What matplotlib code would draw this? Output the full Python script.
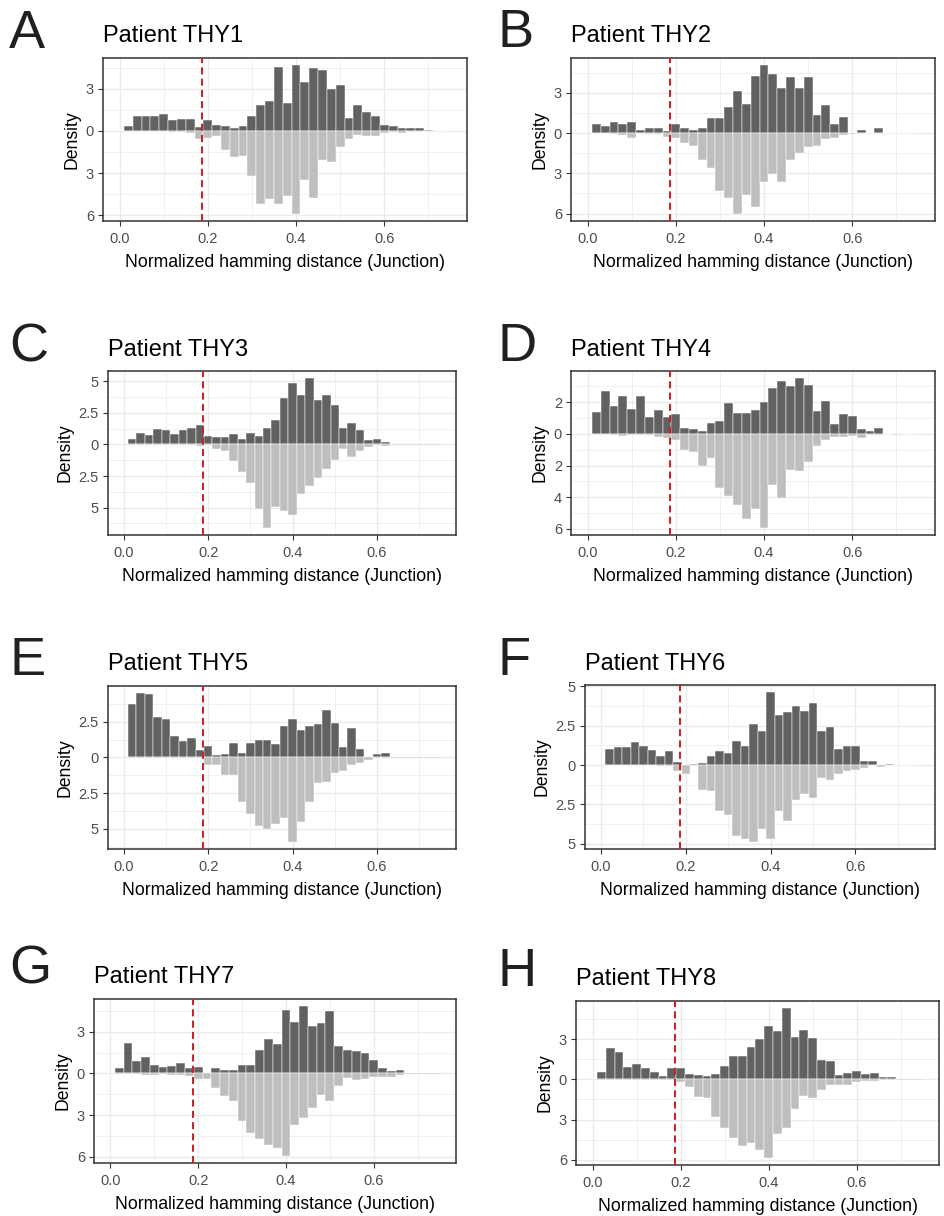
import matplotlib
matplotlib.use("Agg")
import matplotlib.pyplot as plt
import numpy as np

plt.rcParams["font.family"] = ["Liberation Sans", "DejaVu Sans"]

W, H = 944, 1216
BIN = 0.02
centers = np.round(np.arange(1, 38) * BIN, 2)
CUTOFF = 0.187

DARK = "#616161"
LIGHT = "#BEBEBE"
RED = "#CC2229"

# Density per bin (upper = dark series, lower = light series, shown mirrored)
thy1_up = [0.33, 1.02, 1.02, 1.09, 1.21, 0.74, 0.81, 0.81, 0.28, 0.74, 0.40, 0.33, 0.19, 0.33, 1.02, 1.86, 2.14, 4.51, 2.00,
           4.65, 3.47, 4.44, 4.30, 2.98, 3.26, 0.88, 1.86, 1.37, 1.09, 0.40, 0.33, 0.20, 0.20, 0.20, 0.03, 0.02, 0.02]
thy1_dn = [0.00, 0.03, 0.03, 0.02, 0.03, 0.07, 0.09, 0.14, 0.56, 0.49, 0.35, 1.35, 1.88, 1.81, 3.21, 5.23, 4.84, 5.23, 4.60,
           5.88, 3.51, 4.77, 2.05, 2.19, 1.12, 0.56, 0.30, 0.37, 0.37, 0.14, 0.07, 0.14, 0.03, 0.02, 0.01, 0.01, 0.01]

thy2_up = [0.69, 0.54, 0.84, 0.69, 0.84, 0.20, 0.39, 0.39, 0.17, 0.69, 0.34, 0.20, 0.34, 1.15, 1.15, 1.94, 3.14, 2.19, 4.25,
           5.04, 4.40, 3.37, 4.15, 3.34, 4.15, 1.38, 2.09, 0.69, 1.20, 0.02, 0.20, 0.02, 0.34, 0.02, 0.01, 0.01, 0.01]
thy2_dn = [0.02, 0.02, 0.05, 0.17, 0.37, 0.03, 0.05, 0.07, 0.29, 0.37, 0.76, 0.96, 1.99, 2.58, 4.28, 4.86, 6.00, 4.64, 5.53,
           3.66, 3.05, 3.66, 1.99, 1.47, 1.03, 0.96, 0.42, 0.34, 0.15, 0.07, 0.02, 0.02, 0.02, 0.01, 0.01, 0.01, 0.01]

thy3_up = [0.42, 0.89, 0.73, 1.20, 1.10, 0.81, 1.13, 1.31, 1.52, 0.68, 0.58, 0.58, 0.81, 0.42, 0.89, 0.68, 1.31, 1.91, 3.64,
           4.82, 3.87, 5.21, 3.48, 3.87, 3.09, 1.31, 1.68, 1.13, 0.34, 0.42, 0.18, 0.02, 0.02, 0.02, 0.02, 0.02, 0.02]
thy3_dn = [0.02, 0.02, 0.02, 0.02, 0.02, 0.02, 0.02, 0.03, 0.10, 0.05, 0.34, 0.52, 1.31, 2.17, 3.04, 5.08, 6.57, 4.92, 5.24,
           5.55, 3.90, 3.27, 2.64, 1.94, 1.26, 0.34, 0.99, 0.52, 0.18, 0.05, 0.10, 0.02, 0.02, 0.02, 0.02, 0.02, 0.02]

thy4_up = [1.40, 2.73, 1.74, 2.37, 1.59, 2.37, 1.05, 1.49, 1.05, 1.24, 0.36, 0.29, 0.17, 0.67, 0.80, 1.93, 1.30, 1.30, 1.49,
           1.99, 2.87, 3.31, 3.00, 3.50, 3.06, 1.43, 2.05, 0.61, 1.24, 1.11, 0.29, 0.17, 0.36, 0.02, 0.02, 0.02, 0.02]
thy4_dn = [0.02, 0.03, 0.05, 0.13, 0.05, 0.05, 0.07, 0.17, 0.23, 0.36, 1.01, 1.13, 2.01, 1.51, 3.40, 3.90, 4.47, 5.35, 4.72,
           5.91, 3.21, 4.03, 2.26, 2.33, 1.76, 0.75, 0.38, 0.19, 0.19, 0.13, 0.25, 0.06, 0.05, 0.02, 0.06, 0.03, 0.02]

thy5_up = [3.71, 4.47, 4.40, 2.81, 2.67, 1.50, 1.15, 1.36, 0.53, 0.81, 0.18, 0.25, 1.01, 0.32, 1.01, 1.22, 1.22, 0.94, 2.19,
           2.67, 1.91, 2.19, 2.33, 3.29, 2.40, 0.74, 2.05, 0.60, 0.00, 0.25, 0.32, 0.02, 0.02, 0.02, 0.02, 0.02, 0.02]
thy5_dn = [0.02, 0.02, 0.02, 0.02, 0.02, 0.02, 0.07, 0.02, 0.07, 0.55, 0.51, 1.20, 1.24, 3.11, 3.94, 4.77, 5.00, 4.63, 4.22,
           5.88, 4.49, 3.11, 1.82, 1.75, 1.11, 0.97, 0.55, 0.41, 0.21, 0.07, 0.02, 0.02, 0.07, 0.02, 0.02, 0.02, 0.02]

thy6_up = [1.04, 1.17, 1.17, 1.48, 1.23, 0.97, 0.59, 0.91, 0.21, 0.00, 0.08, 0.15, 0.55, 0.91, 0.78, 1.55, 1.23, 2.63, 2.18,
           4.60, 3.14, 3.39, 3.77, 3.45, 3.90, 2.18, 2.44, 1.04, 1.23, 1.23, 0.28, 0.28, 0.02, 0.08, 0.02, 0.02, 0.02]
thy6_dn = [0.02, 0.02, 0.02, 0.02, 0.02, 0.02, 0.03, 0.08, 0.36, 0.55, 0.02, 1.57, 1.63, 2.94, 3.14, 4.47, 4.72, 4.85, 4.03,
           4.72, 2.94, 3.52, 2.20, 1.86, 2.06, 0.81, 0.97, 0.59, 0.36, 0.34, 0.21, 0.02, 0.10, 0.02, 0.02, 0.02, 0.02]

thy7_up = [0.40, 2.16, 0.90, 1.19, 0.62, 0.48, 0.55, 0.76, 0.40, 0.48, 0.00, 0.40, 0.26, 0.26, 0.62, 0.62, 1.69, 2.47, 2.11,
           4.58, 3.68, 4.82, 3.40, 3.61, 4.47, 1.97, 1.69, 1.62, 1.47, 0.97, 0.40, 0.19, 0.26, 0.02, 0.02, 0.02, 0.02]
thy7_dn = [0.02, 0.02, 0.02, 0.14, 0.10, 0.02, 0.14, 0.10, 0.21, 0.43, 0.43, 1.07, 1.64, 2.00, 3.42, 4.28, 4.70, 5.13, 5.34,
           5.91, 3.71, 3.21, 2.49, 1.57, 2.00, 0.93, 0.36, 0.50, 0.43, 0.29, 0.29, 0.29, 0.14, 0.02, 0.02, 0.02, 0.02]

thy8_up = [0.55, 2.34, 2.04, 0.92, 1.14, 0.85, 0.55, 0.25, 0.85, 0.85, 0.40, 0.32, 0.25, 0.40, 1.00, 1.74, 1.74, 2.41, 3.01,
           3.98, 3.61, 5.32, 3.16, 3.68, 3.08, 1.44, 1.37, 0.32, 0.47, 0.62, 0.40, 0.47, 0.17, 0.17, 0.02, 0.02, 0.02]
thy8_dn = [0.02, 0.02, 0.02, 0.02, 0.02, 0.02, 0.02, 0.02, 0.02, 0.20, 0.55, 1.29, 1.37, 2.79, 3.61, 4.35, 5.02, 4.73, 5.32,
           5.85, 4.05, 3.61, 2.19, 1.22, 1.37, 0.77, 0.40, 0.40, 0.40, 0.20, 0.10, 0.10, 0.02, 0.02, 0.02, 0.02, 0.02]

letters = ["A", "B", "C", "D", "E", "F", "G", "H"]
titles = ["Patient THY1", "Patient THY2", "Patient THY3", "Patient THY4",
          "Patient THY5", "Patient THY6", "Patient THY7", "Patient THY8"]
ups = [thy1_up, thy2_up, thy3_up, thy4_up, thy5_up, thy6_up, thy7_up, thy8_up]
dns = [thy1_dn, thy2_dn, thy3_dn, thy4_dn, thy5_dn, thy6_dn, thy7_dn, thy8_dn]
yticks = [[-6, -3, 0, 3], [-6, -3, 0, 3], [-5, -2.5, 0, 2.5, 5], [-6, -4, -2, 0, 2],
          [-5, -2.5, 0, 2.5], [-5, -2.5, 0, 2.5, 5], [-6, -3, 0, 3], [-6, -3, 0, 3]]
xticks = [0.0, 0.2, 0.4, 0.6]
xlabel = "Normalized hamming distance (Junction)"

# panel boxes in pixels: left, top, right, bottom
boxes = [(103, 58, 467, 221), (571, 58, 935, 221),
         (108, 371, 456, 535), (571, 371, 935, 535),
         (108, 686, 456, 849), (585, 685, 935, 849),
         (94, 999, 456, 1163), (576, 1001, 939, 1165)]
letter_pos = [(9, 48), (497, 47), (9, 361), (497, 361), (9, 675), (497, 675), (9, 984), (497, 986)]
title_base = [42, 42, 356, 356, 670, 670, 983, 985]

fig = plt.figure(figsize=(W / 100, H / 100), dpi=100)


def minor_between(ticks, lo, hi):
    step = ticks[1] - ticks[0]
    cand = [ticks[0] - step / 2] + [t + step / 2 for t in ticks]
    return [c for c in cand if lo < c < hi]


for i in range(8):
    l, t, r, b = boxes[i]
    ax = fig.add_axes([l / W, 1 - b / H, (r - l) / W, (b - t) / H])
    ax.set_axisbelow(True)
    up = np.asarray(ups[i])
    dn = np.asarray(dns[i])
    ax.bar(centers, up, width=BIN, color=DARK, edgecolor="white", linewidth=0.35, zorder=2)
    ax.bar(centers, -dn, width=BIN, color=LIGHT, edgecolor="white", linewidth=0.35, zorder=2)
    ax.axvline(CUTOFF, color=RED, linewidth=1.45, linestyle=(0, (3.5, 2.1)), zorder=3)

    hi, lo = up.max(), dn.max()
    span = hi + lo
    ylo, yhi = -lo - 0.05 * span, hi + 0.05 * span
    ax.set_ylim(ylo, yhi)
    ax.set_xlim(-0.0375, 0.7875)

    ax.set_xticks(xticks)
    ax.set_xticklabels([f"{v:.1f}" for v in xticks])
    ax.set_xticks([0.1, 0.3, 0.5, 0.7], minor=True)
    yt = yticks[i]
    ax.set_yticks(yt)
    ax.set_yticklabels([f"{abs(v):g}" for v in yt])
    ax.set_yticks(minor_between(yt, ylo, yhi), minor=True)

    ax.grid(which="major", color="#EBEBEB", linewidth=1.0)
    ax.grid(which="minor", color="#EBEBEB", linewidth=0.5)
    ax.tick_params(which="minor", length=0)
    ax.tick_params(which="major", length=3.5, width=0.8, color="#333333",
                   labelcolor="#4D4D4D", labelsize=10.5)
    ax.tick_params(axis="x", pad=4.5)
    ax.tick_params(axis="y", pad=3)
    for s in ax.spines.values():
        s.set_color("#333333")
        s.set_linewidth(1.1)
    ax.set_ylabel("Density", fontsize=12.7, labelpad=4)

    fig.text((l + r) / 2 / W, 1 - (b + 46) / H, xlabel, fontsize=12.7,
             ha="center", va="baseline")
    fig.text(l / W, 1 - title_base[i] / H, titles[i], fontsize=17,
             ha="left", va="baseline")
    lx, ly = letter_pos[i]
    fig.text(lx / W, 1 - ly / H, letters[i], fontsize=39, ha="left",
             va="baseline", color="#231F20")

fig.savefig("out.png", dpi=100)
